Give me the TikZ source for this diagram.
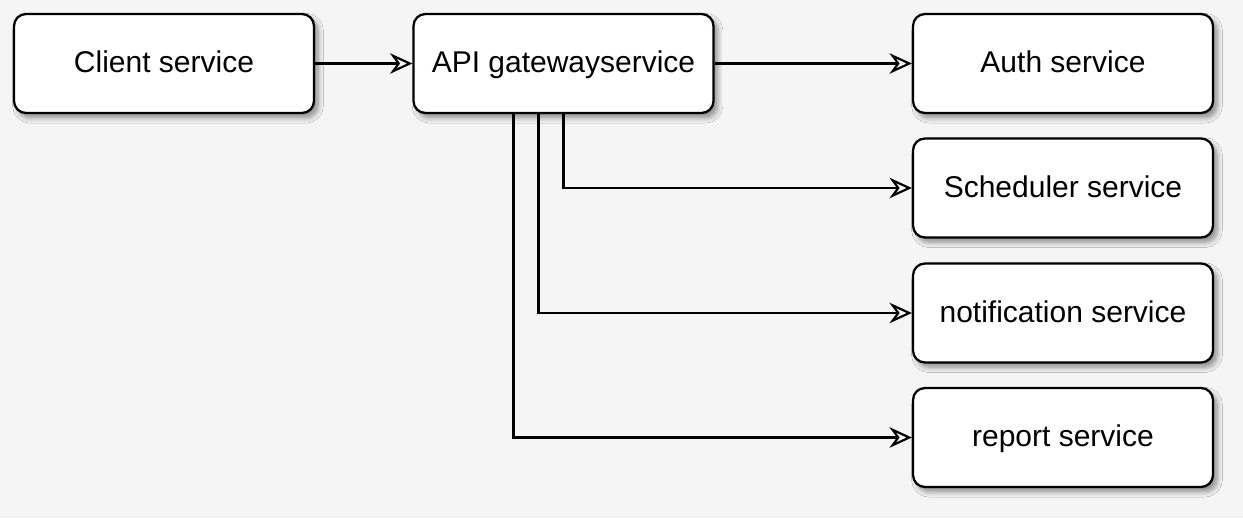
\documentclass[tikz,border=0pt]{standalone}
\usepackage{fontspec}
\setmainfont{Liberation Sans}
\usetikzlibrary{arrows.meta,shadows.blur}

\definecolor{bgcanvas}{RGB}{245,245,245}
\definecolor{shadowblue}{RGB}{150,155,185}

\tikzset{every picture/.style={line width=1.5pt}}
\tikzset{
  servicebox/.style={draw=black, fill=white, rounded corners=9pt, line width=1.7pt,
    minimum width=225pt, minimum height=74.25pt, inner sep=0.75pt,
    text height=17pt, text depth=3.2pt,
    font=\fontsize{22.5}{26}\selectfont,
    blur shadow={shadow xshift=3pt, shadow yshift=-3.5pt, shadow blur steps=8,
      shadow opacity=45, shadow blur radius=4pt, shadow scale=1}},
  flowarrow/.style={draw=black, line width=1.6pt,
    -{Stealth[open, length=12pt, width=11pt, inset=4pt, line width=1.6pt, scale=1.4]}}
}

\begin{document}
\begin{tikzpicture}[x=0.75pt,y=0.75pt,yscale=-1,xscale=1]
%set diagram left start at 0, and has height of 518
\useasboundingbox (0,0) rectangle (1243,518);
\fill [bgcanvas] (0,0) rectangle (1243,518);

% Service Nodes
\node [servicebox] (client) at (164,63.5) {Client service};
\node [servicebox] (gateway) at (563.5,63.5) {API gatewayservice};
\node [servicebox] (auth) at (1063,63.5) {Auth service};
\node [servicebox] (scheduler) at (1063,188) {Scheduler service};
\node [servicebox] (notification) at (1063,313) {notification service};
\node [servicebox] (report) at (1063,437.5) {report service};

% Straight Lines
\draw [flowarrow] (client) -- (gateway);
\draw [flowarrow] (gateway) -- (auth);
% Elbow Lines
\draw [flowarrow] (gateway.south) |- (scheduler.west);
\draw [flowarrow] ([xshift=-18.75pt]gateway.south) |- (notification.west);
\draw [flowarrow] ([xshift=-37.5pt]gateway.south) |- (report.west);

\end{tikzpicture}
\end{document}
